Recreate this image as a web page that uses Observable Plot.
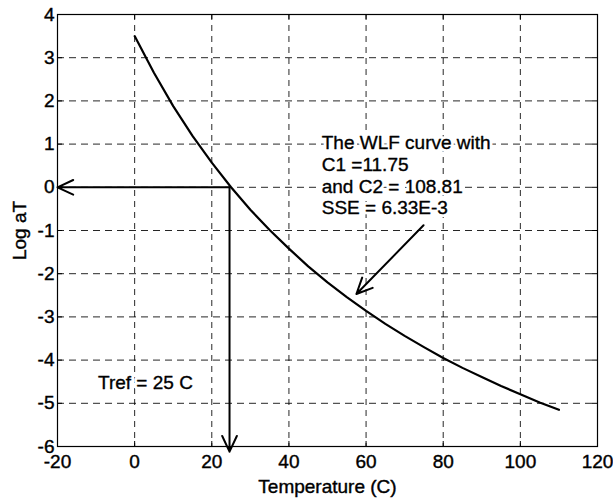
<!DOCTYPE html>
<html>
<head>
<meta charset="utf-8">
<script src="https://cdn.jsdelivr.net/npm/d3@7"></script>
<script src="https://cdn.jsdelivr.net/npm/@observablehq/plot@0.6"></script>
<style>
  html, body { margin: 0; padding: 0; background: #fff; }
  #chart svg { font-family: "Liberation Sans", Arial, Helvetica, sans-serif; }
  #chart svg g[aria-label$="tick label"] text,
  #chart svg g[aria-label$="axis label"] text { stroke: #000; stroke-width: 0.4px; }
</style>
</head>
<body>
<div id="chart"></div>
<script>
const temperature = [0, 5, 10, 15, 20, 25, 30, 35, 40, 45, 50, 55, 60, 65, 70, 75, 80, 85, 90, 95, 100, 105, 110];
const logAT = [3.50, 2.65, 1.88, 1.19, 0.57, 0.00, -0.52, -0.99, -1.42, -1.83, -2.20, -2.54, -2.86, -3.16, -3.44, -3.70, -3.95, -4.18, -4.39, -4.60, -4.79, -4.98, -5.15];

const xTicks = [-20, 0, 20, 40, 60, 80, 100, 120];
const yTicks = [-6, -5, -4, -3, -2, -1, 0, 1, 2, 3, 4];

const arrowsData = [
  {x1: 24.6, y1: 0, x2: -20, y2: 0},
  {x1: 24.6, y1: 0, x2: 24.6, y2: -6.12},
  {x1: 74.9, y1: -0.88, x2: 57.5, y2: -2.47}
];

const wlfLines = ["The WLF curve with", "C1 =11.75", "and C2 = 108.81", "SSE = 6.33E-3"];
const notes = [
  {x: 48.5, y: 0.29, text: wlfLines.join("\n")},
  {x: -9.5, y: -4.51, text: "Tref = 25 C"}
];

const W = 613, H = 501;
const mL = 57, mR = 16, mT = 14, mB = 55;
const pw = W - mL - mR, ph = H - mT - mB;

const fmt = d => String(d);
const curve = temperature.map((t, i) => ({t, v: logAT[i]}));

const chart = Plot.plot({
  width: W,
  height: H,
  marginLeft: mL,
  marginRight: mR,
  marginTop: mT,
  marginBottom: mB,
  style: {fontSize: "19px", fontFamily: "Liberation Sans, Arial, Helvetica, sans-serif", color: "#000", background: "#fff"},
  x: {domain: [-20, 120], ticks: xTicks},
  y: {domain: [-6, 4], ticks: yTicks},
  marks: [
    Plot.gridX(xTicks.slice(1, -1), {stroke: "#000", strokeOpacity: 0.85, strokeDasharray: "6,5", strokeWidth: 1}),
    Plot.gridY(yTicks.slice(1, -1), {stroke: "#000", strokeOpacity: 0.85, strokeDasharray: "7,5", strokeWidth: 1}),
    Plot.tickY(yTicks, {y: d => d, insetRight: pw - 5, stroke: "#000"}),
    Plot.tickY(yTicks, {y: d => d, insetLeft: pw - 5, stroke: "#000"}),
    Plot.tickX(xTicks, {x: d => d, insetTop: ph - 5, stroke: "#000"}),
    Plot.tickX(xTicks, {x: d => d, insetBottom: ph - 5, stroke: "#000"}),
    Plot.frame({stroke: "#000", strokeWidth: 1.2}),
    Plot.axisX({ticks: xTicks, tickFormat: fmt, tickSize: 0, tickPadding: 8, fontSize: 19, label: "Temperature (C)", labelAnchor: "center", labelArrow: "none", labelOffset: 46}),
    Plot.axisY({ticks: yTicks, tickFormat: fmt, tickSize: 0, tickPadding: 3, fontSize: 19, label: "Log aT", labelAnchor: "center", labelArrow: "none", labelOffset: 45}),
    // white halo behind the annotation text (hides grid near the glyphs)
    Plot.text(notes, {x: "x", y: "y", text: "text", textAnchor: "start", lineAnchor: "middle", lineHeight: 1.14, fontSize: 19, fill: "#fff", stroke: "#fff", strokeWidth: 6}),
    Plot.line(curve, {x: "t", y: "v", stroke: "#000", strokeWidth: 2.2}),
    Plot.arrow(arrowsData, {x1: "x1", y1: "y1", x2: "x2", y2: "y2", stroke: "#000", strokeWidth: 2, headLength: 13, headAngle: 50}),
    Plot.text(notes, {x: "x", y: "y", text: "text", textAnchor: "start", lineAnchor: "middle", lineHeight: 1.14, fontSize: 19, fill: "#000", stroke: "#000", strokeWidth: 0.35})
  ]
});

document.getElementById("chart").appendChild(chart);
</script>
</body>
</html>
